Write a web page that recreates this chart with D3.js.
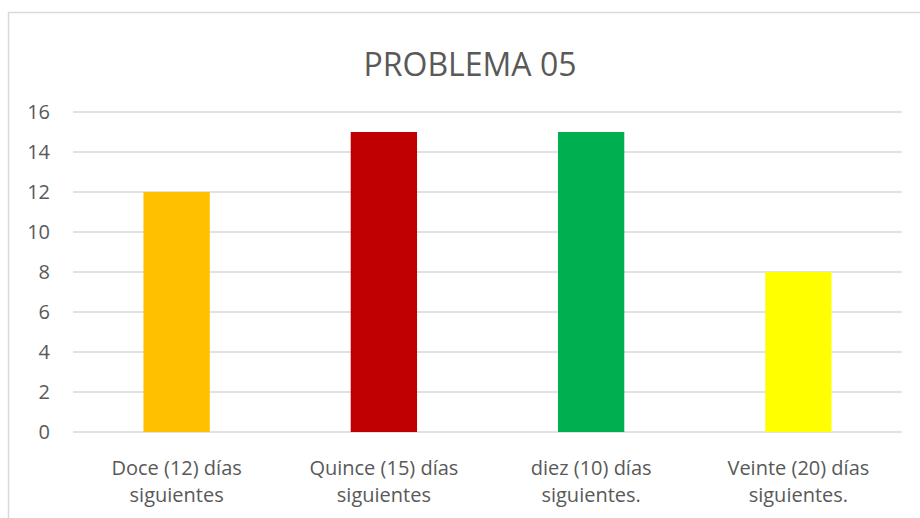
<!DOCTYPE html>
<html>
<head>
<meta charset="utf-8">
<script src="https://cdn.jsdelivr.net/npm/d3@7"></script>
<style>
  body { margin: 0; background: #fff; }
  svg text { font-family: "Open Sans", "Noto Sans", sans-serif; fill: #595959; }
</style>
</head>
<body>
<svg id="chart" width="920" height="518"></svg>
<script>
const categories = [
  ["Doce (12) días", "siguientes"],
  ["Quince (15) días", "siguientes"],
  ["diez (10) días", "siguientes."],
  ["Veinte (20) días", "siguientes."]
]
const values = [12, 15, 15, 8]
const colors = ["#FFC000", "#C00000", "#00B050", "#FFFF00"]
const yTicks = [0, 2, 4, 6, 8, 10, 12, 14, 16]
const title = "PROBLEMA 05"

const margin = {top: 112, right: 18, bottom: 86, left: 73}
  , width = 920 - margin.left - margin.right
  , height = 518 - margin.top - margin.bottom;

const svg = d3.select("#chart")

// chart area border (cropped at right/bottom)
svg.append("rect")
  .attr("x", 8.5).attr("y", 12.5)
  .attr("width", 930).attr("height", 520)
  .attr("fill", "none")
  .attr("stroke", "#d9d9d9")
  .attr("stroke-width", 1.5)

svg.append("text")
  .attr("x", 470).attr("y", 76)
  .attr("text-anchor", "middle")
  .style("font-size", "32px")
  .text(title)

const graph = svg.append("g")
  .attr("transform", "translate(" + margin.left + "," + margin.top + ")")

const xScale = d3.scaleBand()
  .range([0, width])
  .domain(d3.range(categories.length))
  .paddingInner(0.68)
  .paddingOuter(0.34)

const yScale = d3.scaleLinear()
  .range([height, 0])
  .domain([0, 16])

// gridlines
graph.append("g")
  .selectAll("line")
  .data(yTicks)
  .enter().append("line")
  .attr("x1", 0).attr("x2", width)
  .attr("y1", d => yScale(d)).attr("y2", d => yScale(d))
  .attr("stroke", "#d9d9d9")
  .attr("stroke-width", 1.5)

const yAxis = d3.axisLeft(yScale).tickValues(yTicks).tickSize(0).tickPadding(23)
graph.append("g")
  .call(yAxis)
  .call(g => g.select(".domain").remove())
  .selectAll("text")
  .style("font-size", "20px")

graph.selectAll("rect.bar")
  .data(values)
  .enter().append("rect")
  .attr("class", "bar")
  .attr("x", (d, i) => xScale(i))
  .attr("y", d => yScale(d))
  .attr("width", xScale.bandwidth())
  .attr("height", d => height - yScale(d))
  .attr("fill", (d, i) => colors[i])

const labels = graph.append("g")
  .selectAll("text")
  .data(categories)
  .enter().append("text")
  .attr("text-anchor", "middle")
  .attr("transform", (d, i) => "translate(" + (xScale(i) + xScale.bandwidth() / 2) + "," + (height + 43) + ")")
  .style("font-size", "20px")

labels.selectAll("tspan")
  .data(d => d)
  .enter().append("tspan")
  .attr("x", 0)
  .attr("dy", (d, i) => i === 0 ? 0 : "1.35em")
  .text(d => d)
</script>
</body>
</html>
